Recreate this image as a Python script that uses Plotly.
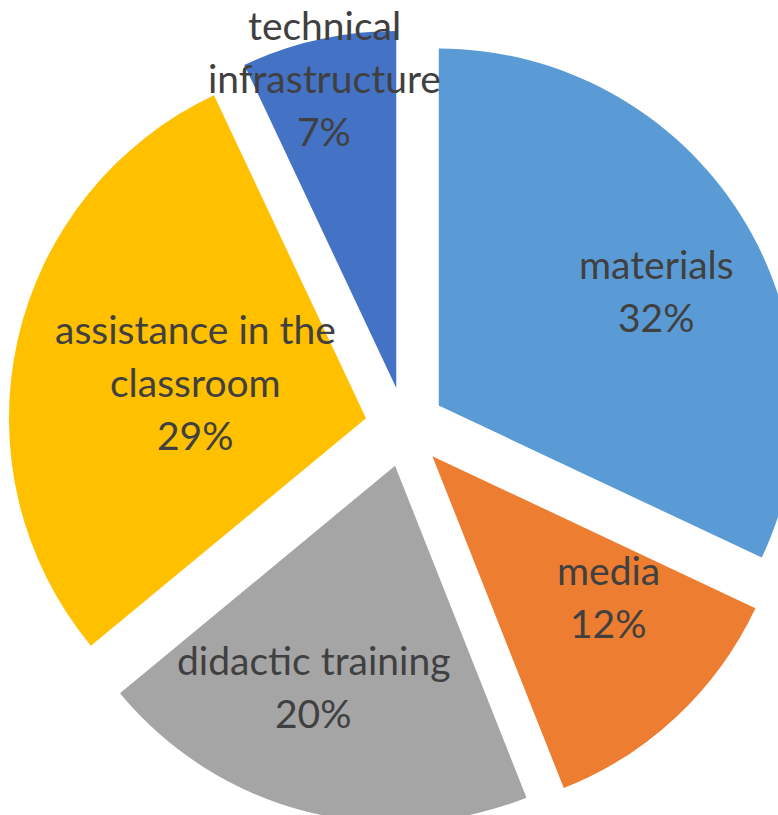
import plotly.graph_objects as go

# ---- data ----
categories = ["materials", "media", "didactic training",
              "assistance in the classroom", "technical infrastructure"]
values = [32, 12, 20, 29, 7]
colors = ["#5B9BD5", "#ED7D31", "#A5A5A5", "#FFC000", "#4472C4"]

# label lines per category (as wrapped in the original)
label_lines = [
    ["materials"],
    ["media"],
    ["didactic training"],
    ["assistance in the", "classroom"],
    ["technical", "infrastructure"],
]

# ---- layout constants ----
W, H = 802, 854
FONT = "Lato"
FSIZE = 39
LINE = 53
TXT = "#404040"
# baseline (px) of first line and horizontal center for each label
label_anchor = [(656, 277), (608, 583), (313, 673), (195, 342), (324, 38)]

fig = go.Figure(go.Pie(
    labels=categories,
    values=values,
    sort=False,
    direction="clockwise",
    rotation=0,
    pull=[0.112] * len(values),
    marker=dict(colors=colors, line=dict(width=0)),
    textinfo="none",
    hoverinfo="label+percent",
    domain=dict(x=[8 / W, 1], y=[0, 1]),
    showlegend=False,
))

annotations = []
for lines, v, (cx, by) in zip(label_lines, values, label_anchor):
    all_lines = lines + [f"{v}%"]
    for i, t in enumerate(all_lines):
        base = by + i * LINE
        ymid = base - 0.33 * FSIZE
        annotations.append(dict(
            x=cx / W, y=1 - ymid / H, xref="paper", yref="paper",
            text=t, showarrow=False, xanchor="center", yanchor="middle",
            font=dict(family=FONT, size=FSIZE, color=TXT),
        ))

fig.update_layout(
    width=W, height=H,
    margin=dict(l=0, r=0, t=0, b=0),
    paper_bgcolor="white",
    plot_bgcolor="white",
    annotations=annotations,
)

fig.write_html(
    "out.html",
    config={"displayModeBar": False},
    post_script="document.body.style.margin='0';"
                "document.body.style.overflow='hidden';"
                "document.documentElement.style.overflow='hidden';",
)
